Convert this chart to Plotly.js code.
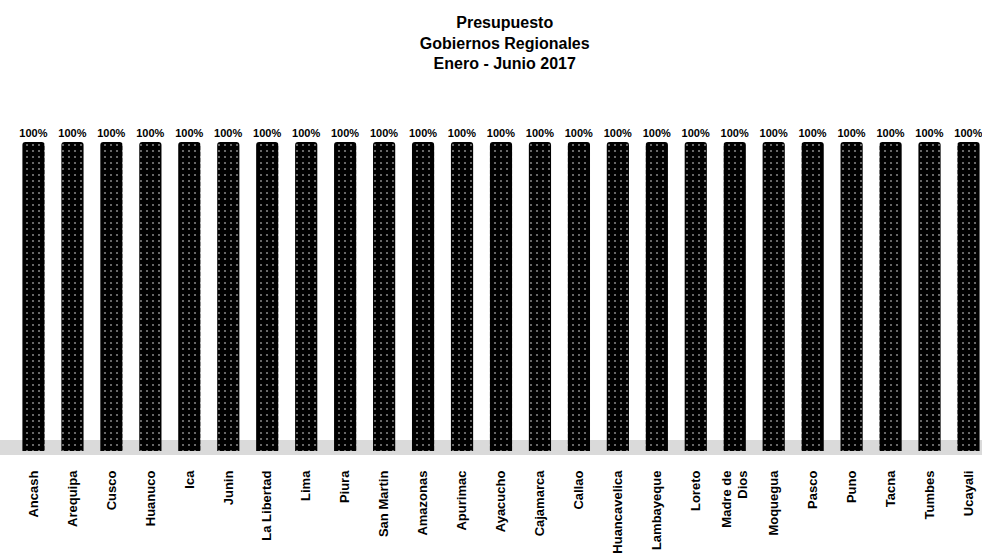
<!DOCTYPE html>
<html>
<head>
<meta charset="utf-8">
<script src="https://cdn.plot.ly/plotly-3.0.1.min.js"></script>
<style>html,body{margin:0;padding:0;background:#fff;}#chart{width:982px;height:554px;}</style>
</head>
<body>
<div id="chart"></div>
<script>
var regions = ["Ancash","Arequipa","Cusco","Huanuco","Ica","Junin","La Libertad","Lima","Piura","San Martin","Amazonas","Apurimac","Ayacucho","Cajamarca","Callao","Huancavelica","Lambayeque","Loreto","Madre de<br>Dios","Moquegua","Pasco","Puno","Tacna","Tumbes","Ucayali"];
var percentValues = [100,100,100,100,100,100,100,100,100,100,100,100,100,100,100,100,100,100,100,100,100,100,100,100,100];
var percentLabels = percentValues.map(function(v){ return v + "%"; });
var titleLines = ["Presupuesto","Gobiernos Regionales","Enero - Junio 2017"];

var trace = {
  type: "bar",
  x: regions,
  y: percentValues,
  text: percentLabels,
  textposition: "outside",
  constraintext: "none",
  cliponaxis: false,
  textfont: {family: "Liberation Sans, Arial, sans-serif", size: 11, color: "#000", weight: "bold"},
  marker: {
    color: "#000",
    line: {width: 0},
    cornerradius: 3,
    pattern: {shape: ".", fgcolor: "#ffffff", bgcolor: "#000000", size: 6, solidity: 0.1, fillmode: "overlay"}
  },
  hoverinfo: "none"
};

var layout = {
  width: 982, height: 554,
  margin: {l: 0, r: 0, t: 142, b: 103, pad: 0},
  paper_bgcolor: "#fff",
  plot_bgcolor: "rgba(0,0,0,0)",
  showlegend: false,
  bargap: 0.43,
  title: {
    text: titleLines.join("<br>"),
    x: 0.514, xanchor: "center",
    y: 0.95, yanchor: "top", yref: "container",
    font: {family: "Liberation Sans, Arial, sans-serif", size: 16, color: "#000", weight: "bold"}
  },
  xaxis: {
    type: "category",
    range: [-0.86, 24.347],
    autorange: false,
    showgrid: false, zeroline: false, showline: false,
    ticks: "",
    tickangle: -90,
    ticklabelstandoff: 16,
    tickfont: {family: "Liberation Sans, Arial, sans-serif", size: 13, color: "#000", weight: "bold"}
  },
  yaxis: {
    range: [0, 100], autorange: false,
    visible: false, showgrid: false, zeroline: false
  },
  shapes: [{
    type: "rect", layer: "below",
    xref: "paper", yref: "paper",
    x0: 0, x1: 1, y0: -0.013, y1: 0.036,
    fillcolor: "#dadada", line: {width: 0}
  }]
};

Plotly.newPlot("chart", [trace], layout, {staticPlot: true, displayModeBar: false});
</script>
</body>
</html>
